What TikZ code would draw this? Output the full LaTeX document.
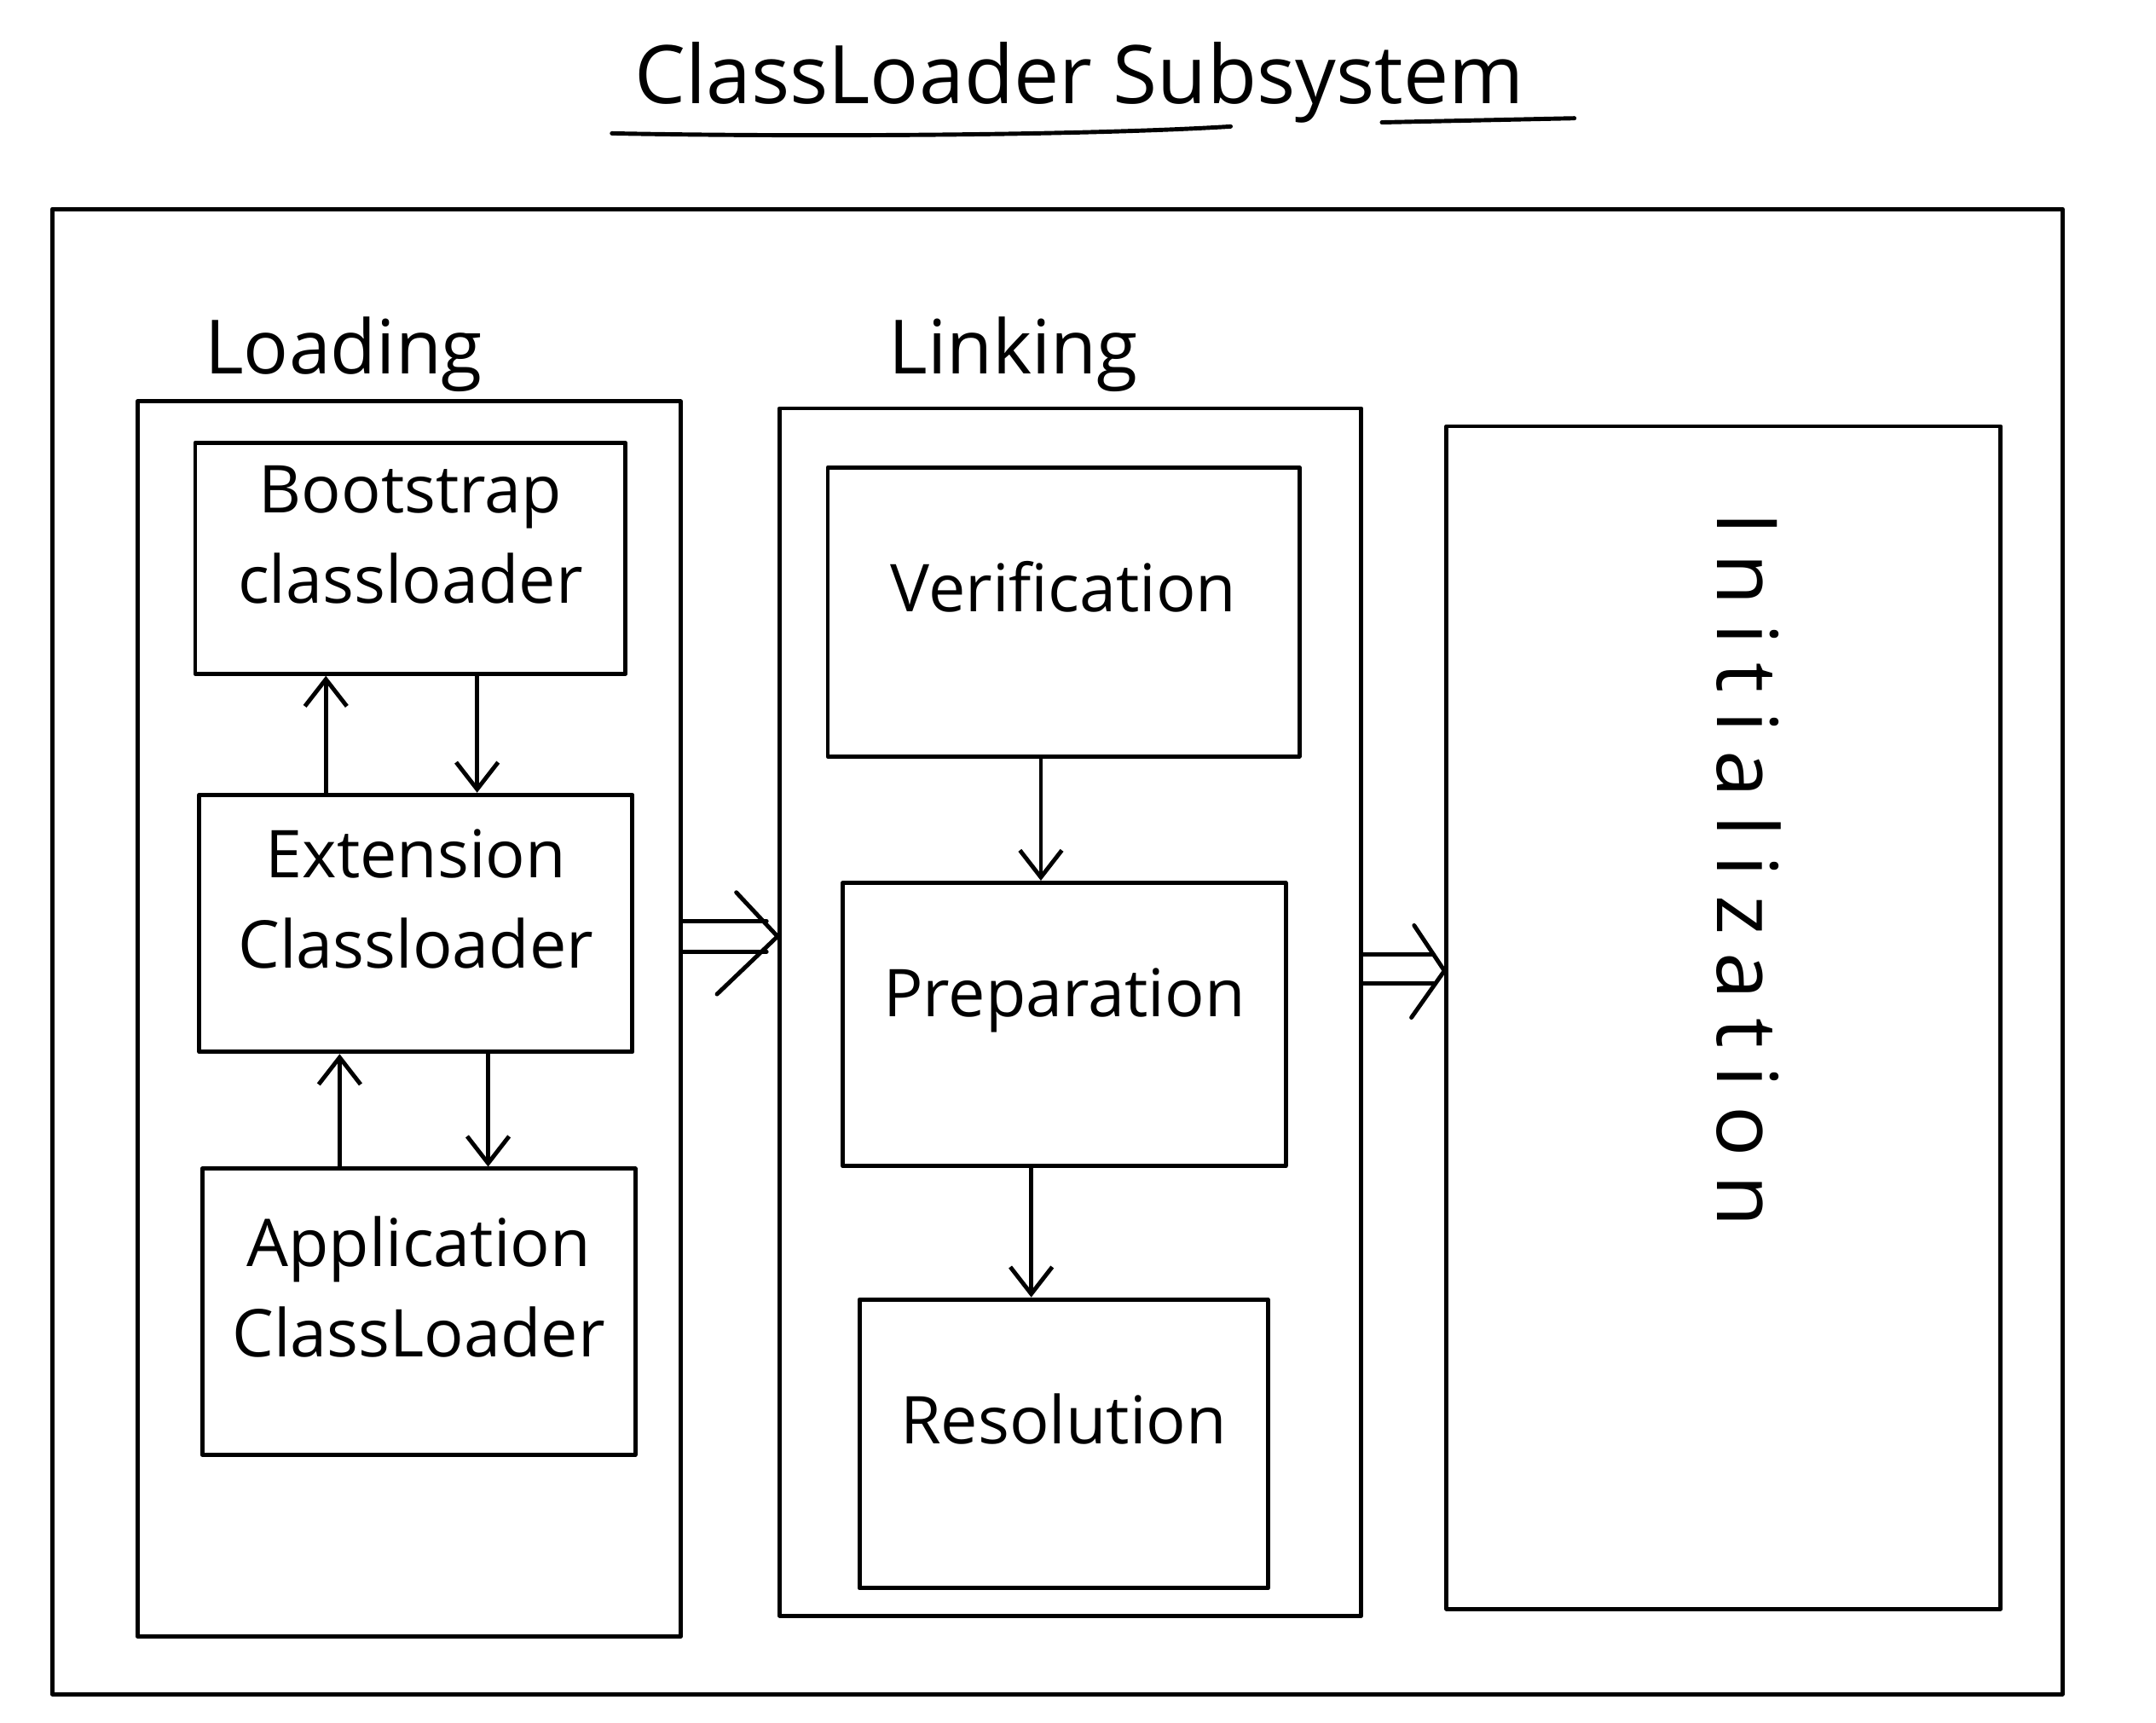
\documentclass[tikz,border=0pt]{standalone}
\usepackage{fontspec}
\setmainfont{Open Sans}
\usetikzlibrary{fit,calc,arrows.meta}
\tikzset{
  ink/.style={line width=1.4pt, line cap=round, line join=round},
  box/.style={draw, ink, inner sep=0pt, align=center, font=\fontsize{22}{30}\selectfont},
  arr/.style={ink, -{Straight Barb[length=9pt, width=14pt, line width=1.4pt]}},
  lbl/.style={font=\fontsize{25}{30}\selectfont},
  ttl/.style={font=\fontsize{27}{32}\selectfont}
}
\begin{document}
\begin{tikzpicture}[x=0.016129cm, y=-0.016129cm]
\useasboundingbox (0,0) rectangle (1568,1253);
\fill[white] (0,0) rectangle (1568,1253);

% title
\node[ttl] (title) at (785,60) {ClassLoader Subsystem};
\draw[ink] (445,97) .. controls (600,100) and (800,98) .. (895,92);
\draw[ink] (1005,89) -- (1145,86);

% outer frame
\node[draw, ink, inner sep=0pt, fit={(38,152) (1500,1232)}] (outer) {};

% Loading
\node[lbl] (loadlbl) at (250,258) {Loading};
\node[draw, ink, inner sep=0pt, fit={(100,292) (495,1190)}] (load) {};
\node[box, fit={(142,322) (455,490)}] (boot) {Bootstrap\\classloader};
\node[box, fit={(145,578) (460,765)}] (ext) {Extension\\Classloader};
\node[box, fit={(147,850) (462,1058)}] (app) {Application\\ClassLoader};

\coordinate (xa) at (237,0);
\coordinate (xb) at (347,0);
\coordinate (xc) at (247,0);
\coordinate (xd) at (355,0);
\draw[arr] (ext.north -| xa) -- (boot.south -| xa);
\draw[arr] (boot.south -| xb) -- (ext.north -| xb);
\draw[arr] (app.north -| xc) -- (ext.south -| xc);
\draw[arr] (ext.south -| xd) -- (app.north -| xd);

% Linking
\node[lbl] (lnklbl) at (737,258) {Linking};
\node[draw, ink, inner sep=0pt, fit={(567,297) (990,1175)}] (lnk) {};
\node[box, fit={(602,340) (945,550)}] (ver) {Verification};
\node[box, fit={(613,642) (935,848)}] (prep) {Preparation};
\node[box, fit={(625,945) (922,1155)}] (res) {Resolution};

\coordinate (xe) at (757,0);
\coordinate (xf) at (750,0);
\draw[arr] (ver.south -| xe) -- (prep.north -| xe);
\draw[arr] (prep.south -| xf) -- (res.north -| xf);

% Initialization
\node[draw, ink, inner sep=0pt, fit={(1052,310) (1455,1170)}] (init) {};
\node[font=\fontsize{28}{32}\selectfont\addfontfeatures{LetterSpace=22}, rotate=-90] (initlbl) at (1272,632) {Initialization};

% double arrows
\coordinate (d1s) at ($(load.east)+(0,-60)$);
\coordinate (d1e) at (lnk.west |- d1s);
\draw[ink] ($(d1s)+(0,-11)$) -- ($(d1e)+(-8,-11)$);
\draw[ink] ($(d1s)+(0,11)$) -- ($(d1e)+(-8,11)$);
\draw[ink] ($(d1e)+(-30,-32)$) -- (d1e) -- ($(d1e)+(-44,42)$);

\coordinate (d2s) at ($(lnk.east)+(0,-30)$);
\coordinate (d2e) at (init.west |- d2s);
\draw[ink] ($(d2s)+(0,-12)$) -- ($(d2e)+(-8,-12)$);
\draw[ink] ($(d2s)+(0,9)$) -- ($(d2e)+(-8,9)$);
\draw[ink] ($(d2e)+(-22,-33)$) -- (d2e) -- ($(d2e)+(-24,34)$);
\end{tikzpicture}
\end{document}
